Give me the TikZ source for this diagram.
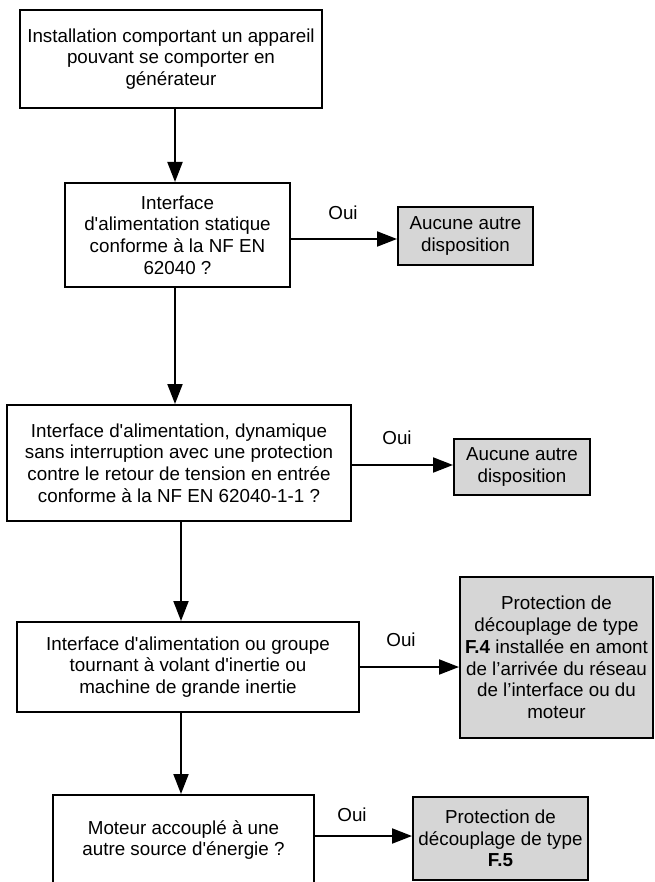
\documentclass[tikz,border=0pt]{standalone}
\usepackage{fontspec}
\setmainfont{Liberation Sans}[Ligatures=TeXOff]
\usetikzlibrary{arrows.meta}
\definecolor{boxgray}{HTML}{D6D6D6}
\begin{document}
\begin{tikzpicture}[x=1pt,y=-1pt,
  every node/.style={font=\fontsize{18.8}{21.7}\selectfont},
  stepbox/.style={draw=black, line width=2pt, fill=white, align=center, inner sep=0pt},
  outbox/.style={stepbox, fill=boxgray},
  arr/.style={line width=2pt, -{Triangle[length=20pt,width=15pt]}},
  lbl/.style={inner sep=0pt}]
\useasboundingbox (0,0) rectangle (654,882);

% decision chain
\node[stepbox, minimum width=302pt, minimum height=98pt] (b1) at (171,59)
  {Installation comportant un appareil\\pouvant se comporter en\\générateur};
\node[stepbox, minimum width=225pt, minimum height=104pt] (b2) at (177.5,235)
  {Interface\\d'alimentation statique\\conforme à la NF EN\\62040 ?};
\node[stepbox, minimum width=344pt, minimum height=116pt] (b3) at (179,463)
  {Interface d'alimentation, dynamique\\sans interruption avec une protection\\contre le retour de tension en entrée\\conforme à la NF EN 62040-1-1 ?};
\node[stepbox, minimum width=342pt, minimum height=90pt] (b4) at (188,667)
  {Interface d'alimentation ou groupe\\tournant à volant d'inertie ou\\machine de grande inertie};
\node[stepbox, minimum width=261pt, minimum height=90pt] (b5) at (183.5,840)
  {Moteur accouplé à une\\autre source d'énergie ?};

% outcomes
\node[outbox, minimum width=135pt, minimum height=58pt] (g1) at (465.5,236)
  {Aucune autre\\disposition};
\node[outbox, minimum width=136pt, minimum height=56pt] (g2) at (522,467)
  {Aucune autre\\disposition};
\node[outbox, minimum width=193pt, minimum height=161pt] (g3) at (556.5,657.5)
  {Protection de\\découplage de type\\\textbf{F.4} installée en amont\\de l’arrivée du réseau\\de l’interface ou du\\moteur};
\node[outbox, minimum width=175pt, minimum height=83pt] (g4) at (500.5,838.5)
  {Protection de\\découplage de type\\\textbf{F.5}};

% vertical flow
\draw[arr] ([xshift=4pt]b1.south) -- ([xshift=-2.5pt]b2.north);
\draw[arr] ([xshift=-2.5pt]b2.south) -- ([xshift=-4pt]b3.north);
\draw[arr] ([xshift=2pt]b3.south) -- ([xshift=-7pt]b4.north);
\draw[arr] ([xshift=-7pt]b4.south) -- ([xshift=-2.5pt]b5.north);

% "Oui" branches
\draw[arr] ([yshift=-4pt]b2.east) -- ([yshift=-3pt]g1.west);
\draw[arr] ([yshift=-2pt]b3.east) -- ([yshift=2pt]g2.west);
\draw[arr] (b4.east) -- ([yshift=-9.5pt]g3.west);
\draw[arr] ([yshift=4pt]b5.east) -- ([yshift=2.5pt]g4.west);

\node[lbl] (o1) at (343,213) {Oui};
\node[lbl] (o2) at (397,438) {Oui};
\node[lbl] (o3) at (401,640) {Oui};
\node[lbl] (o4) at (352,815) {Oui};
\end{tikzpicture}
\end{document}
